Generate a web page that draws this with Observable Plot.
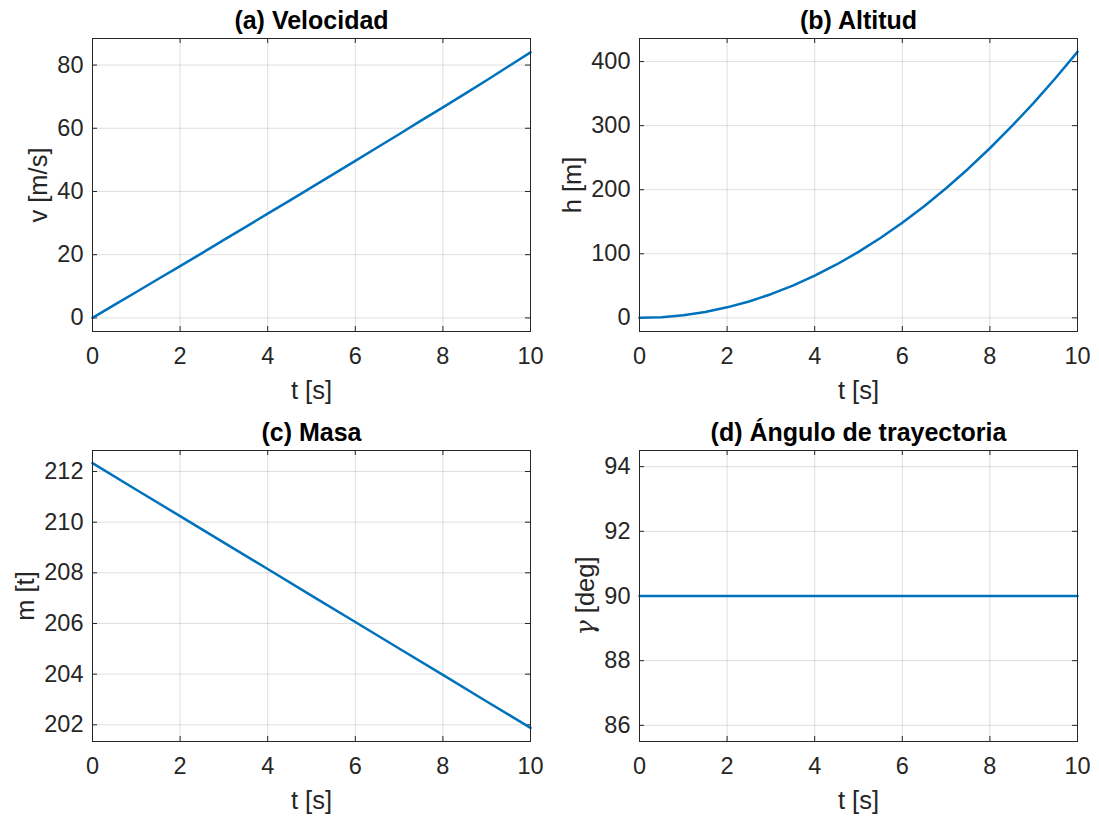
<!DOCTYPE html>
<html>
<head>
<meta charset="utf-8">
<script src="https://cdn.jsdelivr.net/npm/d3@7"></script>
<script src="https://cdn.jsdelivr.net/npm/@observablehq/plot@0.6"></script>
<style>
  body { margin: 0; background: #fff; }
  #fig { position: relative; width: 1099px; height: 820px; background: #fff; overflow: hidden; }
  .panel { position: absolute; }
</style>
</head>
<body>
<div id="fig"></div>
<script>
// ---- data ----
const tFine = [0,0.5,1,1.5,2,2.5,3,3.5,4,4.5,5,5.5,6,6.5,7,7.5,8,8.5,9,9.5,10];
const velocity = [0,4.1,8.2,12.3,16.4,20.5,24.7,28.8,33.0,37.1,41.3,45.5,49.7,53.9,58.1,62.4,66.6,70.9,75.2,79.6,84.0];
const altitude = [0,1.0,4.1,9.2,16.4,25.6,36.9,50.3,65.8,83.3,102.9,124.6,148.4,174.3,202.3,232.4,264.7,299.1,335.6,374.3,415.2];
const tCoarse = [0,1,2,3,4,5,6,7,8,9,10];
const mass = [212.33,211.28,210.24,209.19,208.15,207.10,206.06,205.01,203.97,202.92,201.88];
const tGamma = [0,10];
const gammaDeg = [90,90];

const xTicks = [0,2,4,6,8,10];
const vTicks = [0,20,40,60,80];
const hTicks = [0,100,200,300,400];
const mTicks = [202,204,206,208,210,212];
const gTicks = [86,88,90,92,94];

const titles = ["(a) Velocidad","(b) Altitud","(c) Masa","(d) Ángulo de trayectoria"];
const yLabels = ["v [m/s]","h [m]","m [t]","γ [deg]"];
const xLabel = "t [s]";

// ---- layout ----
const W = 550, H = 410;
const FONT = "'Liberation Sans', Arial, Helvetica, sans-serif";
const INK = "#262626";
const panels = [
  {left:0,   top:0,   ml:92, mr:20, mt:38, mb:79, t:tFine,   y:velocity, dom:[-4.3,88.4],    ticks:vTicks, ldx:-46},
  {left:549, top:0,   ml:90, mr:22, mt:38, mb:79, t:tFine,   y:altitude, dom:[-21.3,436],    ticks:hTicks, ldx:-59},
  {left:0,   top:410, ml:92, mr:20, mt:40, mb:79, t:tCoarse, y:mass,     dom:[201.34,212.83],ticks:mTicks, ldx:-59},
  {left:549, top:410, ml:90, mr:22, mt:40, mb:79, t:tGamma,  y:gammaDeg, dom:[85.5,94.5],    ticks:gTicks, ldx:-46}
];

const fig = document.getElementById("fig");
panels.forEach((p, i) => {
  const fw = W - p.ml - p.mr;
  const fh = H - p.mt - p.mb;
  const rows = p.t.map((d, k) => ({t: d, val: p.y[k]}));
  const chart = Plot.plot({
    width: W, height: H,
    marginLeft: p.ml, marginRight: p.mr, marginTop: p.mt, marginBottom: p.mb,
    x: {domain: [0, 10]},
    y: {domain: p.dom},
    style: {fontFamily: FONT, color: INK, background: "transparent", overflow: "visible"},
    marks: [
      Plot.ruleX(xTicks, {x: d => d, stroke: INK, strokeOpacity: 0.15}),
      Plot.ruleY(p.ticks, {y: d => d, stroke: INK, strokeOpacity: 0.15}),
      Plot.tickX(xTicks, {x: d => d, stroke: INK, insetTop: fh - 5}),
      Plot.tickX(xTicks, {x: d => d, stroke: INK, insetBottom: fh - 5}),
      Plot.tickY(p.ticks, {y: d => d, stroke: INK, insetRight: fw - 5}),
      Plot.tickY(p.ticks, {y: d => d, stroke: INK, insetLeft: fw - 5}),
      Plot.line(rows, {x: "t", y: "val", stroke: "#0072BD", strokeWidth: 2.5}),
      Plot.frame({stroke: INK, strokeWidth: 1}),
      Plot.axisX({ticks: xTicks, tickSize: 0, tickPadding: 16, fontSize: 23.5, label: null}),
      Plot.axisY({ticks: p.ticks, tickSize: 0, tickPadding: 9, fontSize: 23.5, label: null}),
      Plot.text([titles[i]], {text: d => d, frameAnchor: "top", dy: -10, lineAnchor: "bottom",
                              fontSize: 25, fontWeight: "bold", fill: "#000"}),
      Plot.text([xLabel], {text: d => d, frameAnchor: "bottom", dy: 67, lineAnchor: "bottom",
                           fontSize: 25.5, fill: INK}),
      Plot.text([yLabels[i]], {text: d => d, frameAnchor: "left", dx: p.ldx, rotate: -90,
                               lineAnchor: "bottom", textAnchor: "middle", fontSize: 25.5, fill: INK})
    ]
  });
  // render the TeX-style gamma glyph in a serif italic face, keeping it real text
  d3.select(chart).selectAll("text").each(function() {
    const el = d3.select(this);
    const s = el.text();
    if (s.startsWith("γ")) {
      el.text(null);
      el.append("tspan").attr("font-family", "'DejaVu Serif', serif").attr("font-style", "italic").text("γ");
      el.append("tspan").text(s.slice(1));
    }
  });
  const div = document.createElement("div");
  div.className = "panel";
  div.style.left = p.left + "px";
  div.style.top = p.top + "px";
  div.appendChild(chart);
  fig.appendChild(div);
});
</script>
</body>
</html>
